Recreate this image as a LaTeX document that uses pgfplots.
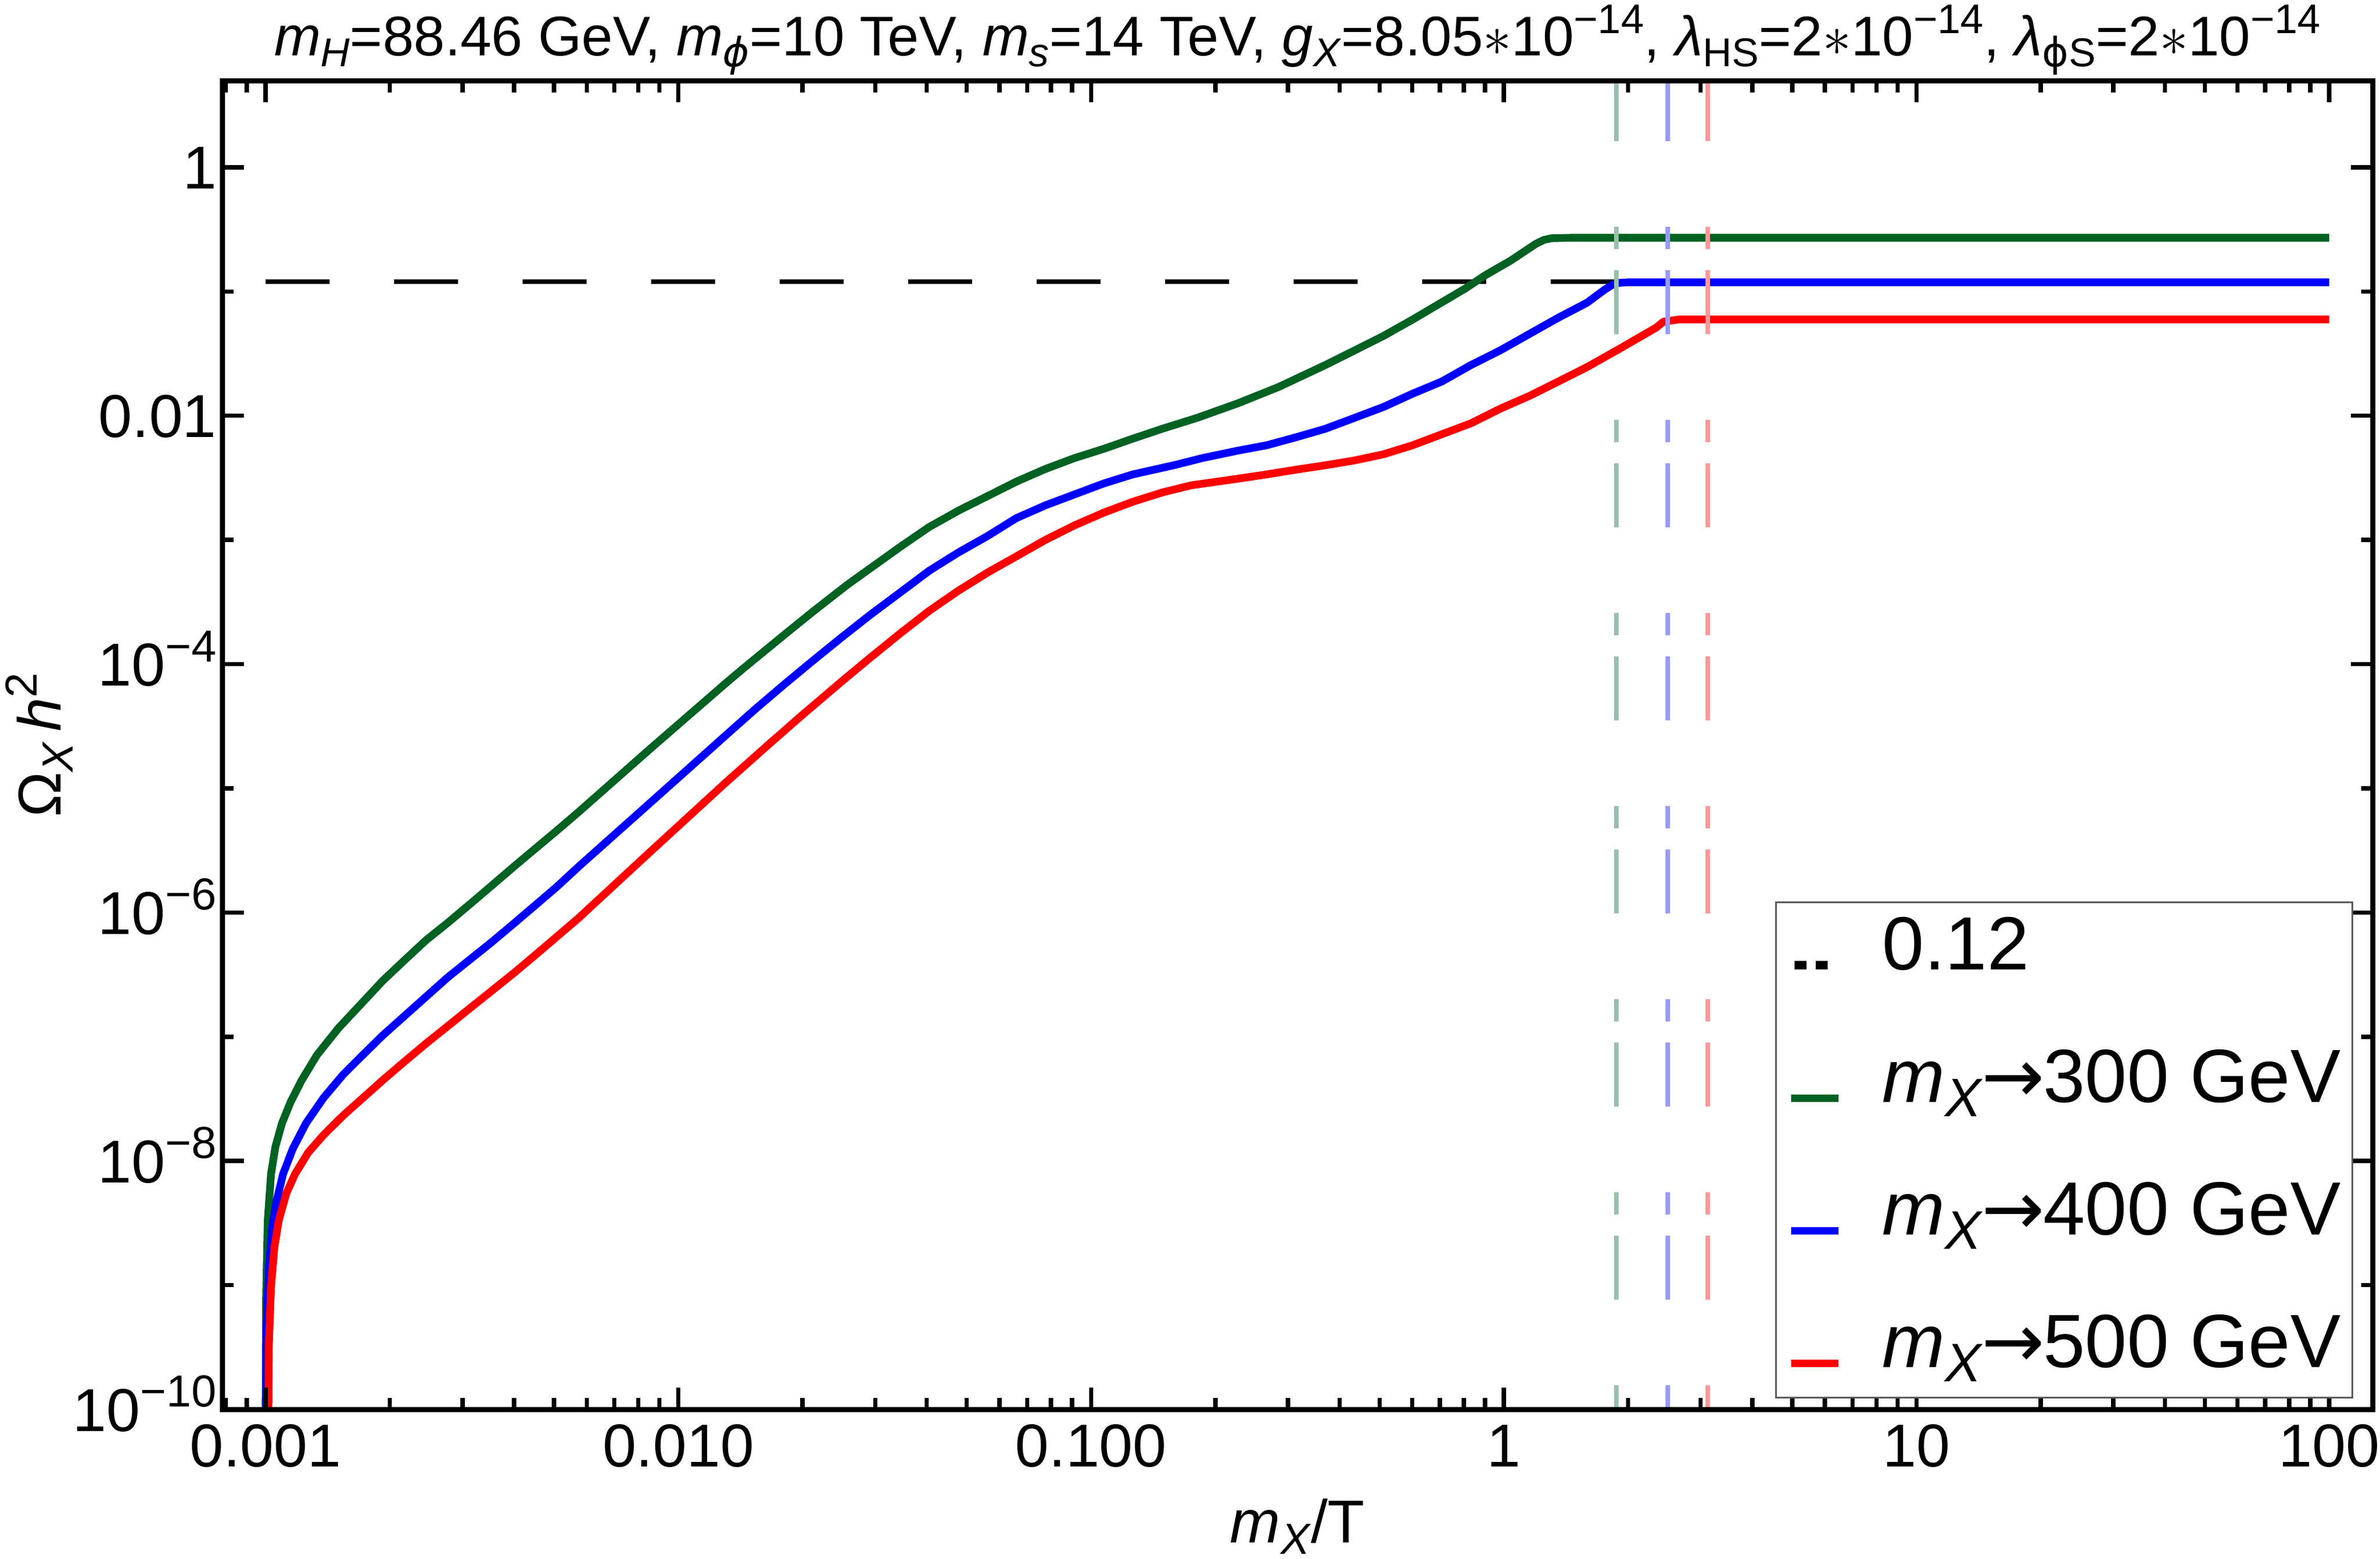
\documentclass[border=0pt]{standalone}
\usepackage{fontspec}
\setmainfont{Liberation Sans}
\newfontfamily\dejavu{DejaVu Sans}
\usepackage{graphicx}
\usepackage{pgfplots}
\pgfplotsset{compat=1.18}
\definecolor{cG}{RGB}{0,98,34}
\definecolor{cB}{RGB}{0,0,255}
\definecolor{cR}{RGB}{255,0,0}
\definecolor{cGl}{RGB}{153,192,167}
\definecolor{cBl}{RGB}{153,153,255}
\definecolor{cRl}{RGB}{255,153,153}
\newcommand{\sbs}[1]{\raisebox{-0.19em}{\scalebox{0.72}{#1}}}
\newcommand{\sps}[1]{\raisebox{0.4em}{\scalebox{0.74}{#1}}}
\newcommand{\mX}{\textit{m}\sbs{\textit{X}}}
\newcommand{\phis}{{\dejavu\itshape ϕ}}
\newcommand{\phiu}{{\dejavu ϕ}}
\newcommand{\arr}{{\dejavu\kern-0.02em→\kern-0.02em}}
\newcommand{\legline}[1]{\draw[#1, line width=1.3pt] (0pt,-2.5pt) -- (8.3pt,-2.5pt); \path (0pt,2.5pt) (15.3pt,0pt);}
\newcommand{\legdash}{\draw[black, line width=1.5pt, dash pattern=on 2.1pt off 1.6pt] (0.6pt,-2.4pt) -- (6.4pt,-2.4pt); \path (0pt,2.5pt) (15.3pt,0pt);}
\begin{document}
\begin{tikzpicture}[font=\fontsize{10.6}{12.7}\selectfont]
\begin{axis}[
  at={(0pt,0pt)}, anchor=south west,
  scale only axis, width=376.45pt, height=232.55pt,
  xmode=log, ymode=log,
  xmin=7.86e-4, xmax=127.4, ymin=1e-10, ymax=4.97,
  axis on top,
  axis line style={line width=0.9pt},
  every tick/.append style={black, line width=0.75pt},
  major tick length=3.8pt, minor tick length=2pt,
  tick align=inside,
  xtick={0.001,0.01,0.1,1,10,100},
  xticklabels={0.001,0.010,0.100,1,10,100},
  minor xtick={8e-4,9e-4,2e-3,3e-3,4e-3,5e-3,6e-3,7e-3,8e-3,9e-3,2e-2,3e-2,4e-2,5e-2,6e-2,7e-2,8e-2,9e-2,0.2,0.3,0.4,0.5,0.6,0.7,0.8,0.9,2,3,4,5,6,7,8,9,20,30,40,50,60,70,80,90},
  ytick={1,1e-2,1e-4,1e-6,1e-8,1e-10},
  yticklabels={1,0.01,10\sps{−4},10\sps{−6},10\sps{−8},10\sps{−10}},
  minor ytick={1e-1,1e-3,1e-5,1e-7,1e-9},
  xticklabel style={anchor=base, yshift=-10pt, inner sep=0pt},
  yticklabel style={anchor=base east, xshift=-0.85pt, yshift=-3.8pt, inner sep=0pt},
  xlabel={\mX/T},
  ylabel={Ω\sbs{\textit{X}}\,\textit{h}\sps{2}},
  xlabel style={at={(axis description cs:0.5,0)}, anchor=base, yshift=-23.3pt, inner sep=0pt},
  ylabel style={at={(axis description cs:-0.07504,0.5)}, anchor=base, inner sep=0pt},
  title={\textit{m}\sbs{\textit{H}}=88.46 GeV, \textit{m}\sbs{\phis}=10 TeV, \textit{m}\sbs{\textit{s}}=14 TeV, \textit{g}\sbs{\textit{X}}=8.05$\ast$10\sps{−14}, \textit{λ}\sbs{HS}=2$\ast$10\sps{−14}, \textit{λ}\sbs{\phiu S}=2$\ast$10\sps{−14}},
  title style={at={(axis description cs:0.5,1)}, anchor=base, yshift=-1.65pt, inner sep=0pt, font=\fontsize{9.8}{11}\selectfont},
  legend cell align=left,
  legend style={at={(axis description cs:0.7221,0.3823)}, anchor=north west,
    draw=black!65, line width=0.3pt, fill=white, inner xsep=2pt, inner ysep=2.3pt,
    font=\fontsize{13.2}{15}\selectfont, row sep=10.7pt,
    nodes={inner sep=0pt, text height=9.5pt, text depth=3pt}},
]
\addplot[black, line width=0.77pt, dash pattern=on 11.2pt off 11.3pt,
  legend image code/.code={\legdash}]
  coordinates {(0.001,0.12) (100,0.12)};
\addlegendentry{0.12}

\addplot[cG, line width=1.35pt, line join=round,
  legend image code/.code={\legline{cG}}]
  table {
x y
0.0010003 7.94e-11
0.0010010 2.82e-10
0.0010030 8.32e-10
0.0010118 3.30e-9
0.0010305 7.85e-9
0.0010560 1.30e-8
0.0010954 2.01e-8
0.0011501 2.99e-8
0.0012223 4.45e-8
0.0013311 7.11e-8
0.0015037 1.18e-7
0.0016991 1.82e-7
0.0019195 2.81e-7
0.0021682 4.12e-7
0.0024491 6.00e-7
0.0027667 8.30e-7
0.0031254 1.167e-6
0.0035310 1.648e-6
0.0039893 2.333e-6
0.0045075 3.281e-6
0.0050912 4.603e-6
0.0057528 6.516e-6
0.0084918 2.042e-5
0.012963 6.918e-5
0.014305 9.12e-5
0.017966 1.698e-4
0.021135 2.630e-4
0.025691 4.365e-4
0.034414 8.75e-4
0.040496 1.268e-3
0.047663 1.718e-3
0.056070 2.249e-3
0.065976 2.951e-3
0.077634 3.733e-3
0.091352 4.571e-3
0.10745 5.420e-3
0.12640 6.546e-3
0.14874 7.852e-3
0.18074 9.616e-3
0.22696 1.259e-2
0.28497 1.706e-2
0.36956 2.559e-2
0.51154 4.395e-2
0.60198 5.957e-2
0.80661 0.1057
0.9007 0.1349
1.0382 0.1770
1.1973 0.2427
1.250 0.260
1.3041 0.2685
1.4614 0.2710
100 0.2710
};
\addlegendentry{\mX\arr300 GeV}

\addplot[cB, line width=1.35pt, line join=round,
  legend image code/.code={\legline{cB}}]
  table {
x y
0.0010010 7.59e-11
0.0010030 2.29e-10
0.0010057 4.68e-10
0.0010181 1.38e-9
0.0010369 2.85e-9
0.0010624 4.73e-9
0.0011021 7.85e-9
0.0011642 1.256e-8
0.0012525 2.01e-8
0.0013806 3.21e-8
0.0015408 4.95e-8
0.0016991 6.85e-8
0.0019195 1.021e-7
0.0021682 1.466e-7
0.0024491 2.104e-7
0.0027667 3.020e-7
0.0031254 4.178e-7
0.0035310 5.781e-7
0.0039893 8.128e-7
0.0045075 1.148e-6
0.0050912 1.626e-6
0.0057528 2.366e-6
0.0084918 7.499e-6
0.012963 2.630e-5
0.015267 4.266e-5
0.017963 6.761e-5
0.021135 1.059e-4
0.024865 1.641e-4
0.029255 2.512e-4
0.034420 3.758e-4
0.040496 5.636e-4
0.047643 7.907e-4
0.056054 1.072e-3
0.065949 1.500e-3
0.077591 1.901e-3
0.091286 2.328e-3
0.10740 2.851e-3
0.12637 3.373e-3
0.15857 3.990e-3
0.18664 4.571e-3
0.22689 5.236e-3
0.26700 5.794e-3
0.31418 6.714e-3
0.36966 7.852e-3
0.43491 9.616e-3
0.51168 1.178e-2
0.60200 1.507e-2
0.70826 1.888e-2
0.83290 2.559e-2
0.98017 3.357e-2
1.1532 4.550e-2
1.3570 6.166e-2
1.5915 8.128e-2
1.7579 0.1038
1.8345 0.1135
1.905 0.1175
1.9983 0.1186
100 0.1186
};
\addlegendentry{\mX\arr400 GeV}

\addplot[cR, line width=1.35pt, line join=round,
  legend image code/.code={\legline{cR}}]
  table {
x y
0.0010140 3.98e-11
0.0010160 1.26e-10
0.0010181 3.26e-10
0.0010305 9.64e-10
0.0010496 1.986e-9
0.0010755 3.296e-9
0.0011224 5.47e-9
0.0011784 7.85e-9
0.0012678 1.167e-8
0.0013806 1.614e-8
0.0015408 2.317e-8
0.0016991 3.097e-8
0.0019195 4.446e-8
0.0021682 6.295e-8
0.0024491 8.831e-8
0.0027667 1.222e-7
0.0031254 1.694e-7
0.0035310 2.344e-7
0.0039893 3.243e-7
0.0045075 4.560e-7
0.0050912 6.442e-7
0.0057528 9.12e-7
0.0062503 1.178e-6
0.0084918 3.020e-6
0.012963 1.096e-5
0.016443 2.213e-5
0.019806 3.802e-5
0.024865 7.244e-5
0.029255 1.135e-4
0.034420 1.758e-4
0.040496 2.679e-4
0.047643 3.890e-4
0.056054 5.445e-4
0.065949 7.379e-4
0.077591 1.002e-3
0.091286 1.312e-3
0.10740 1.660e-3
0.12637 2.032e-3
0.14873 2.410e-3
0.17498 2.754e-3
0.22689 3.112e-3
0.26700 3.373e-3
0.31418 3.681e-3
0.36966 3.990e-3
0.43491 4.365e-3
0.51168 4.898e-3
0.60200 5.794e-3
0.70826 7.096e-3
0.83290 8.690e-3
0.98017 1.138e-2
1.1532 1.442e-2
1.3570 1.888e-2
1.5963 2.477e-2
1.8780 3.357e-2
2.3366 5.105e-2
2.4384 5.715e-2
2.6563 5.957e-2
100 5.957e-2
};
\addlegendentry{\mX\arr500 GeV}

\addplot[cGl, line width=0.8pt, dash pattern=on 11.2pt off 15pt on 3.9pt off 3.7pt, dash phase=0.65pt, forget plot]
  coordinates {(1.875,4.97) (1.875,1e-10)};
\addplot[cBl, line width=0.8pt, dash pattern=on 11.2pt off 15pt on 3.9pt off 3.7pt, dash phase=0.65pt, forget plot]
  coordinates {(2.5,4.97) (2.5,1e-10)};
\addplot[cRl, line width=0.8pt, dash pattern=on 11.2pt off 15pt on 3.9pt off 3.7pt, dash phase=0.65pt, forget plot]
  coordinates {(3.125,4.97) (3.125,1e-10)};
\end{axis}
\pgfresetboundingbox
\path[use as bounding box] (-38.95pt,-26.1pt) rectangle (377.75pt,246.7pt);
\end{tikzpicture}
\end{document}
